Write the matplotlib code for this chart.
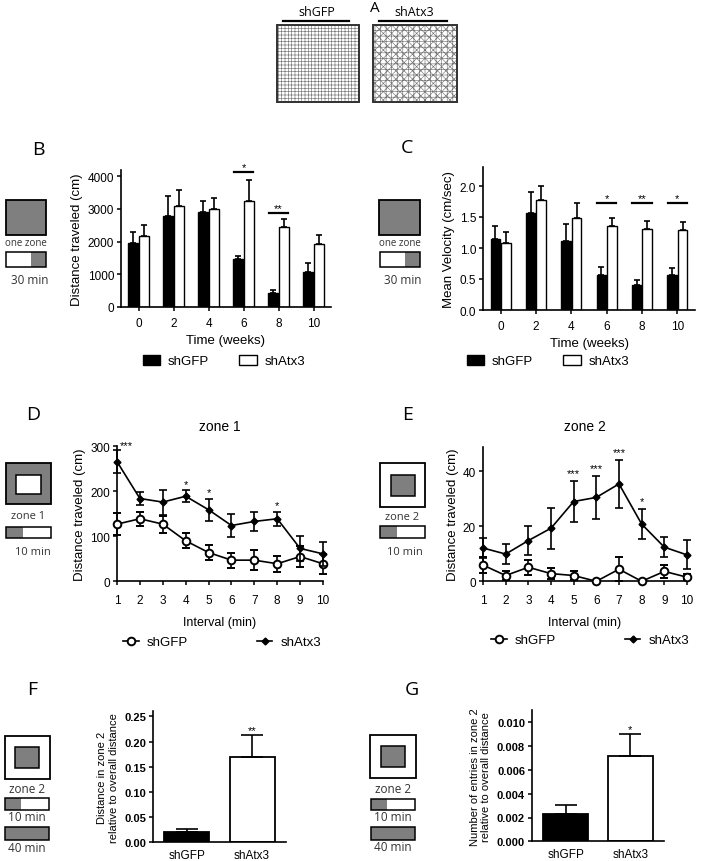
import matplotlib
matplotlib.use("Agg")
import matplotlib.pyplot as plt
import numpy as np
from matplotlib.patches import Rectangle
from matplotlib.ticker import FormatStrFormatter

plt.rcParams["font.family"] = ["Liberation Sans", "DejaVu Sans"]
plt.rcParams["hatch.linewidth"] = 0.45
plt.rcParams["axes.linewidth"] = 1.2
plt.rcParams["xtick.major.width"] = 1.1
plt.rcParams["ytick.major.width"] = 1.1
plt.rcParams["xtick.major.size"] = 3
plt.rcParams["ytick.major.size"] = 3

W, H = 704, 862
ICON_FONT = ["Open Sans", "DejaVu Sans"]
GREY = "#7f7f7f"

# ---- data ----
weeks = [0, 2, 4, 6, 8, 10]
dist_gfp = [1950, 2790, 2910, 1460, 420, 1080]
dist_gfp_sem = [350, 610, 315, 100, 110, 265]
dist_atx3 = [2160, 3070, 2990, 3250, 2430, 1915]
dist_atx3_sem = [355, 490, 325, 620, 255, 285]
dist_sig = {6: ("*", 4110), 8: ("**", 2860)}

vel_gfp = [1.14, 1.56, 1.11, 0.56, 0.41, 0.57]
vel_gfp_sem = [0.21, 0.34, 0.28, 0.13, 0.07, 0.11]
vel_atx3 = [1.08, 1.77, 1.48, 1.35, 1.31, 1.29]
vel_atx3_sem = [0.18, 0.23, 0.24, 0.13, 0.12, 0.13]
vel_sig = {6: ("*", 1.72), 8: ("**", 1.72), 10: ("*", 1.72)}

intervals = [1, 2, 3, 4, 5, 6, 7, 8, 9, 10]
zone1_gfp = [127, 139, 127, 90, 64, 47, 47, 39, 55, 39]
zone1_gfp_sem = [24, 16, 19, 17, 16, 17, 22, 18, 23, 22]
zone1_atx3 = [266, 184, 176, 189, 159, 124, 133, 139, 73, 61]
zone1_atx3_sem = [25, 14, 28, 13, 25, 25, 22, 15, 27, 26]
zone1_stars = {1: "***", 4: "*", 5: "*", 8: "*"}

zone2_gfp = [5.9, 2.1, 5.1, 2.8, 2.1, 0.0, 4.4, 0.0, 3.6, 1.5]
zone2_gfp_sem = [3.0, 1.8, 2.8, 2.0, 1.8, 0.2, 4.3, 0.2, 2.3, 1.0]
zone2_atx3 = [12.1, 9.9, 14.8, 19.3, 29.0, 30.5, 35.4, 20.8, 12.4, 9.6]
zone2_atx3_sem = [3.5, 3.6, 5.4, 7.4, 7.4, 7.9, 8.7, 5.6, 3.6, 5.3]
zone2_stars = {5: "***", 6: "***", 7: "***", 8: "*"}

groups = ["shGFP", "shAtx3"]
zone2_dist_ratio = [0.020, 0.169]
zone2_dist_ratio_sem = [0.006, 0.044]
zone2_entries_ratio = [0.00229, 0.00719]
zone2_entries_ratio_sem = [0.00079, 0.00183]


def px_axes(fig, left, top, right, bottom):
    return fig.add_axes([left / W, 1 - bottom / H, (right - left) / W, (bottom - top) / H])


def style_axes(ax):
    ax.spines["top"].set_visible(False)
    ax.spines["right"].set_visible(False)
    ax.tick_params(direction="out", labelsize=8.5, pad=2)


def zone_icon(ax, box, fc_outer, inner=None, fc_inner=None):
    l, t, r, b = box
    ax.add_patch(Rectangle((l, t), r - l, b - t, fc=fc_outer, ec="black", lw=1.3))
    if inner is not None:
        l, t, r, b = inner
        ax.add_patch(Rectangle((l, t), r - l, b - t, fc=fc_inner, ec="black", lw=1.1))


def time_bar(ax, box, grey_frac, grey_left):
    l, t, r, b = box
    w = r - l
    split = l + w * (grey_frac if grey_left else 1 - grey_frac)
    left_fc, right_fc = (GREY, "white") if grey_left else ("white", GREY)
    ax.add_patch(Rectangle((l, t), split - l, b - t, fc=left_fc, ec="none"))
    ax.add_patch(Rectangle((split, t), r - split, b - t, fc=right_fc, ec="none"))
    ax.add_patch(Rectangle((l, t), w, b - t, fc="none", ec="black", lw=1.1))


def icon_text(ax, x, y, s, size=8):
    ax.text(x, y, s, ha="center", va="center", fontsize=size, family=ICON_FONT, color="#333333")


def bar_panel(ax, means_a, sem_a, means_b, sem_b, sig, ylabel, ylim, yticks):
    x = np.array(weeks, dtype=float)
    off, bw = 0.3, 0.55
    b1 = ax.bar(x - off, means_a, bw, color="black", edgecolor="black", lw=1.0, label="shGFP")
    b2 = ax.bar(x + off, means_b, bw, color="white", edgecolor="black", lw=1.0, label="shAtx3")
    ax.errorbar(x - off, means_a, yerr=[np.zeros(len(x)), sem_a], fmt="none",
                ecolor="black", elinewidth=1.2, capsize=2, capthick=1.2)
    ax.errorbar(x + off, means_b, yerr=[np.zeros(len(x)), sem_b], fmt="none",
                ecolor="black", elinewidth=1.2, capsize=2, capthick=1.2)
    for wk, (stars, h) in sig.items():
        ax.plot([wk - 0.55, wk + 0.55], [h, h], color="black", lw=1.6)
        ax.text(wk, h, stars, ha="center", va="bottom", fontsize=8)
    ax.set_xlim(-1, 11)
    ax.set_ylim(*ylim)
    ax.set_xticks(weeks)
    ax.set_yticks(yticks)
    style_axes(ax)
    ax.tick_params(axis="x", pad=4)
    ax.set_xlabel("Time (weeks)", fontsize=9.5, labelpad=4)
    ax.set_ylabel(ylabel, fontsize=9.5, labelpad=3)
    return b1, b2


def line_panel(ax, g, g_sem, a, a_sem, stars, title, ylim, yticks, star_pad):
    e1 = ax.errorbar(intervals, g, yerr=g_sem, color="black", lw=1.2, marker="o", ms=5.5,
                     mfc="white", mec="black", mew=1.4, capsize=3, elinewidth=1.2,
                     capthick=1.2, clip_on=False, zorder=3)
    e2 = ax.errorbar(intervals, a, yerr=a_sem, color="black", lw=1.2, marker="D", ms=3.5,
                     mfc="black", mec="black", capsize=3, elinewidth=1.2, capthick=1.2,
                     clip_on=False, zorder=4)
    for i, s in stars.items():
        top = a[i - 1] + a_sem[i - 1]
        if i == 1:
            ax.text(i + 0.12, top, s, ha="left", va="bottom", fontsize=8)
        else:
            ax.text(i, top + star_pad, s, ha="center", va="bottom", fontsize=8)
    ax.set_xlim(1, 10)
    ax.set_ylim(*ylim)
    ax.set_xticks(intervals)
    ax.set_yticks(yticks)
    style_axes(ax)
    ax.tick_params(axis="x", pad=6)
    ax.set_title(title, fontsize=10, pad=12)
    ax.set_xlabel("Interval (min)", fontsize=9, labelpad=7)
    ax.set_ylabel("Distance traveled (cm)", fontsize=9.5, labelpad=3)
    return e1, e2


def ratio_panel(ax, means, sem, stars, ylabel, ylim, yticks, fmt):
    x = np.arange(len(groups))
    ax.bar(x, means, 0.69, color=["black", "white"], edgecolor="black", lw=1.3)
    ax.errorbar(x, means, yerr=[np.zeros(len(x)), sem], fmt="none", ecolor="black",
                elinewidth=1.2, capsize=8, capthick=1.2)
    ax.text(1, means[1] + sem[1], stars, ha="center", va="bottom", fontsize=8)
    ax.set_xlim(-0.52, 1.52)
    ax.set_ylim(*ylim)
    ax.set_xticks(x)
    ax.set_xticklabels(groups)
    ax.set_yticks(yticks)
    ax.yaxis.set_major_formatter(FormatStrFormatter(fmt))
    style_axes(ax)
    ax.tick_params(axis="y", labelsize=8)
    ax.set_ylabel(ylabel, fontsize=8, labelpad=4)
    for lab in ax.get_yticklabels():
        lab.set_fontweight("bold")
    ax.tick_params(axis="x", length=0, pad=5, labelsize=8.5)


fig = plt.figure(figsize=(W / 100, H / 100), dpi=100)

# canvas for panel A, icons and panel letters (pixel coordinates)
canvas = fig.add_axes([0, 0, 1, 1])
canvas.set_xlim(0, W)
canvas.set_ylim(H, 0)
canvas.axis("off")

# ---- A ----
canvas.text(375, 9, "A", ha="center", va="center", fontsize=11, family=ICON_FONT)
for (l, r), name, hatch in [((277, 359), "shGFP", "+++++"), ((373, 457), "shAtx3", "xxxx+++")]:
    canvas.add_patch(Rectangle((l, 26), r - l, 77, fc="white", ec="#777777", lw=0.5, hatch=hatch))
    canvas.add_patch(Rectangle((l, 26), r - l, 77, fc="none", ec="#333333", lw=1.4))
    canvas.text((l + r) / 2 - 1, 13, name, ha="center", va="center", fontsize=9, family=ICON_FONT)
    canvas.plot([l + 6, r - 10], [22, 22], color="black", lw=1.6)

# ---- letters ----
for s, x, y in [("B", 38, 150), ("C", 407, 148), ("D", 33, 415), ("E", 408, 415),
                ("F", 32, 690), ("G", 412, 690)]:
    canvas.text(x, y, s, ha="center", va="center", fontsize=14, family=ICON_FONT)

# ---- icons ----
zone_icon(canvas, (6, 201, 46, 236), GREY)
icon_text(canvas, 26, 244, "one zone", 7)
time_bar(canvas, (6, 253, 46, 268), 0.37, grey_left=False)
icon_text(canvas, 30, 281, "30 min", 8.5)

zone_icon(canvas, (379, 201, 420, 236), GREY)
icon_text(canvas, 400, 244, "one zone", 7)
time_bar(canvas, (380, 253, 420, 268), 0.37, grey_left=False)
icon_text(canvas, 403, 281, "30 min", 8.5)

zone_icon(canvas, (6, 464, 51, 505), GREY, (16, 476, 41, 495), "white")
icon_text(canvas, 28, 517, "zone 1")
time_bar(canvas, (6, 528, 51, 539), 0.37, grey_left=True)
icon_text(canvas, 33, 553, "10 min")

zone_icon(canvas, (380, 464, 425, 508), "white", (391, 476, 415, 497), GREY)
icon_text(canvas, 402, 518, "zone 2")
time_bar(canvas, (380, 527, 425, 539), 0.37, grey_left=True)
icon_text(canvas, 405, 553, "10 min")

zone_icon(canvas, (5, 737, 50, 780), "white", (15, 748, 39, 769), GREY)
icon_text(canvas, 27, 790, "zone 2", 8.5)
time_bar(canvas, (5, 799, 49, 811), 0.37, grey_left=True)
icon_text(canvas, 27, 818, "10 min", 8.5)
canvas.add_patch(Rectangle((5, 828), 44, 13, fc=GREY, ec="black", lw=1.1))
icon_text(canvas, 27, 849, "40 min", 8.5)

zone_icon(canvas, (370, 736, 416, 779), "white", (381, 747, 405, 768), GREY)
icon_text(canvas, 393, 790, "zone 2", 8.5)
time_bar(canvas, (371, 800, 415, 811), 0.37, grey_left=True)
icon_text(canvas, 393, 818, "10 min", 8.5)
canvas.add_patch(Rectangle((371, 828), 44, 13, fc=GREY, ec="black", lw=1.1))
icon_text(canvas, 393, 848, "40 min", 8.5)

# ---- B ----
ax_b = px_axes(fig, 121, 170.5, 331, 308)
hb = bar_panel(ax_b, dist_gfp, dist_gfp_sem, dist_atx3, dist_atx3_sem, dist_sig,
               "Distance traveled (cm)", (0, 4200), [0, 1000, 2000, 3000, 4000])
ax_b.legend(handles=hb, loc="center", bbox_to_anchor=(224 / W, 1 - 362 / H),
            bbox_transform=fig.transFigure, ncol=2, frameon=False, fontsize=9.5,
            handlelength=1.3, handleheight=0.8, handletextpad=0.6, columnspacing=2.3)

# ---- C ----
ax_c = px_axes(fig, 483, 168.4, 695, 311)
hc = bar_panel(ax_c, vel_gfp, vel_gfp_sem, vel_atx3, vel_atx3_sem, vel_sig,
               "Mean Velocity (cm/sec)", (0, 2.3), [0.0, 0.5, 1.0, 1.5, 2.0])
ax_c.yaxis.set_major_formatter(FormatStrFormatter("%.1f"))
ax_c.legend(handles=hc, loc="center", bbox_to_anchor=(548 / W, 1 - 362 / H),
            bbox_transform=fig.transFigure, ncol=2, frameon=False, fontsize=9.5,
            handlelength=1.3, handleheight=0.8, handletextpad=0.6, columnspacing=2.3)

# ---- D ----
ax_d = px_axes(fig, 117, 447.3, 323, 582.3)
hd = line_panel(ax_d, zone1_gfp, zone1_gfp_sem, zone1_atx3, zone1_atx3_sem, zone1_stars,
                "zone 1", (0, 300), [0, 100, 200, 300], 4)
ax_d.legend([hd[0][0], hd[1][0]], groups, loc="center", bbox_to_anchor=(222 / W, 1 - 643 / H),
            bbox_transform=fig.transFigure, ncol=2, frameon=False, fontsize=9.5,
            handlelength=1.2, handletextpad=0.6, columnspacing=5.2)

# ---- E ----
ax_e = px_axes(fig, 483, 447.5, 687, 582.3)
he = line_panel(ax_e, zone2_gfp, zone2_gfp_sem, zone2_atx3, zone2_atx3_sem, zone2_stars,
                "zone 2", (0, 49), [0, 20, 40], 1.0)
ax_e.legend([he[0][0], he[1][0]], groups, loc="center", bbox_to_anchor=(590 / W, 1 - 641 / H),
            bbox_transform=fig.transFigure, ncol=2, frameon=False, fontsize=9.5,
            handlelength=1.2, handletextpad=0.6, columnspacing=5.2)

# ---- F ----
ax_f = px_axes(fig, 153, 712.3, 286, 843.3)
ratio_panel(ax_f, zone2_dist_ratio, zone2_dist_ratio_sem, "**",
            "Distance in zone 2\nrelative to overall distance", (0, 0.26),
            [0.0, 0.05, 0.10, 0.15, 0.20, 0.25], "%.2f")

# ---- G ----
ax_g = px_axes(fig, 532, 711.4, 664, 842.3)
ratio_panel(ax_g, zone2_entries_ratio, zone2_entries_ratio_sem, "*",
            "Number of entries in zone 2\nrelative to overall distance", (0, 0.011),
            [0.0, 0.002, 0.004, 0.006, 0.008, 0.010], "%.3f")

fig.savefig("out.png", dpi=100)
